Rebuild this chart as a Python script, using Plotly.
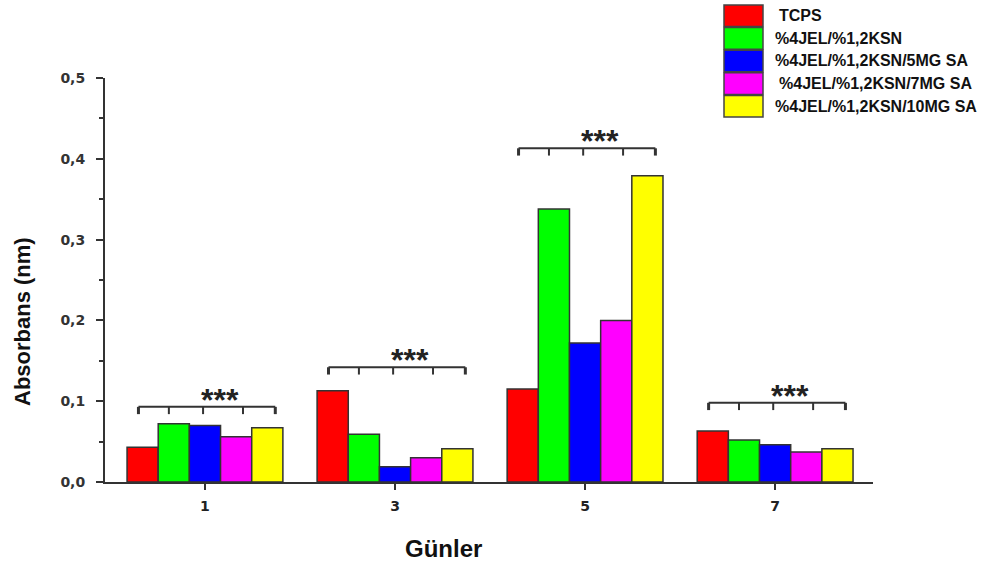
import plotly.graph_objects as go

days = ["1", "3", "5", "7"]
series_names = ["TCPS", "%4JEL/%1,2KSN", "%4JEL/%1,2KSN/5MG SA",
                "%4JEL/%1,2KSN/7MG SA", "%4JEL/%1,2KSN/10MG SA"]
tcps = [0.043, 0.113, 0.115, 0.063]
jel = [0.072, 0.059, 0.338, 0.052]
sa5 = [0.070, 0.019, 0.172, 0.046]
sa7 = [0.056, 0.030, 0.200, 0.037]
sa10 = [0.067, 0.041, 0.379, 0.041]
bracket_levels = [0.093, 0.142, 0.413, 0.098]
sig_labels = ["***", "***", "***", "***"]
y_ticks = [0, 0.1, 0.2, 0.3, 0.4, 0.5]
y_tick_text = ["0,0", "0,1", "0,2", "0,3", "0,4", "0,5"]

colors = ["#ff0000", "#00ff00", "#0000ff", "#ff00ff", "#ffff00"]
all_vals = [tcps, jel, sa5, sa7, sa10]

W, H = 993, 562
L, R, T, B = 105, 873, 78, 482
FONT = "Liberation Sans, Arial, sans-serif"
TICKFONT = "DejaVu Sans, sans-serif"

def pxx(px):
    return (px - L) / (R - L)

def pxy(py):
    return (B - py) / (B - T)

xpos = list(range(len(days)))
fig = go.Figure()
for name, vals, c in zip(series_names, all_vals, colors):
    fig.add_trace(go.Bar(x=xpos, y=vals, name=name, marker_color=c,
                         marker_line_color="#333333", marker_line_width=1.5,
                         showlegend=False))

shapes = []
annotations = []
offs = [-0.35, -0.19, -0.01, 0.2, 0.37]
tick_len = 0.009
for i, lvl in enumerate(bracket_levels):
    x0 = xpos[i] + offs[0]
    x1 = xpos[i] + offs[-1]
    shapes.append(dict(type="line", xref="x", yref="y", x0=x0, x1=x1, y0=lvl, y1=lvl,
                       line=dict(color="#333333", width=2)))
    for j, o in enumerate(offs):
        w = 3 if j in (0, len(offs) - 1) else 2
        shapes.append(dict(type="line", xref="x", yref="y", x0=xpos[i] + o, x1=xpos[i] + o,
                           y0=lvl, y1=lvl - tick_len, line=dict(color="#333333", width=w)))
    annotations.append(dict(x=xpos[i] + 0.08, y=lvl, xref="x", yref="y",
                            text="<b>" + sig_labels[i] + "</b>", showarrow=False,
                            yanchor="bottom", yshift=-13,
                            font=dict(family=FONT, size=32, color="#222222")))

# custom legend
row_top = 5
row_h = 22.6
for k, (name, c) in enumerate(zip(series_names, colors)):
    y0 = row_top + k * row_h
    y1 = y0 + row_h - 1
    shapes.append(dict(type="rect", xref="paper", yref="paper",
                       x0=pxx(724), x1=pxx(763), y0=pxy(y1), y1=pxy(y0),
                       fillcolor=c, line=dict(color="#444444", width=1.5)))
    annotations.append(dict(x=pxx(773 if k not in (0, 3) else 777), y=pxy((y0 + y1) / 2),
                            xref="paper", yref="paper", xanchor="left", yanchor="middle",
                            text="<b>" + name + "</b>", showarrow=False,
                            font=dict(family=FONT, size=16, color="#111111")))

annotations.append(dict(x=pxx(22), y=pxy(322), xref="paper", yref="paper",
                        xanchor="center", yanchor="middle",
                        text="<b>Absorbans (nm)</b>", textangle=-90, showarrow=False,
                        font=dict(family=FONT, size=22, color="#111111")))
annotations.append(dict(x=pxx(443), y=pxy(533), xref="paper", yref="paper",
                        xanchor="center", yanchor="top",
                        text="<b>Günler</b>", showarrow=False,
                        font=dict(family=FONT, size=24, color="#111111")))

fig.update_layout(
    width=W, height=H,
    margin=dict(l=L, r=W - R, t=T, b=H - B),
    paper_bgcolor="white", plot_bgcolor="white",
    barmode="group", bargap=0.18, bargroupgap=0,
    shapes=shapes, annotations=annotations,
    xaxis=dict(range=[-0.526, 3.515], tickvals=xpos, ticktext=["<b>%s</b>" % d for d in days],
               showline=True, linecolor="#333333", linewidth=2, showgrid=False, zeroline=False,
               ticks="outside", ticklen=6, tickwidth=2, tickcolor="#333333",
               ticklabelstandoff=4,
               tickfont=dict(family=TICKFONT, size=14, color="#222222")),
    yaxis=dict(range=[0, 0.5], tickvals=y_ticks, ticktext=["<b>%s</b>" % t for t in y_tick_text],
               showline=True, linecolor="#333333", linewidth=2, showgrid=False, zeroline=False,
               ticks="outside", ticklen=7, tickwidth=1.5, tickcolor="#333333",
               ticklabelstandoff=8,
               tickfont=dict(family=TICKFONT, size=14, color="#333333"),
               minor=dict(tickvals=[0.05, 0.15, 0.25, 0.35, 0.45], ticks="outside", ticklen=4,
                          tickwidth=1.5, tickcolor="#333333")),
)
fig.write_html("out.html")
